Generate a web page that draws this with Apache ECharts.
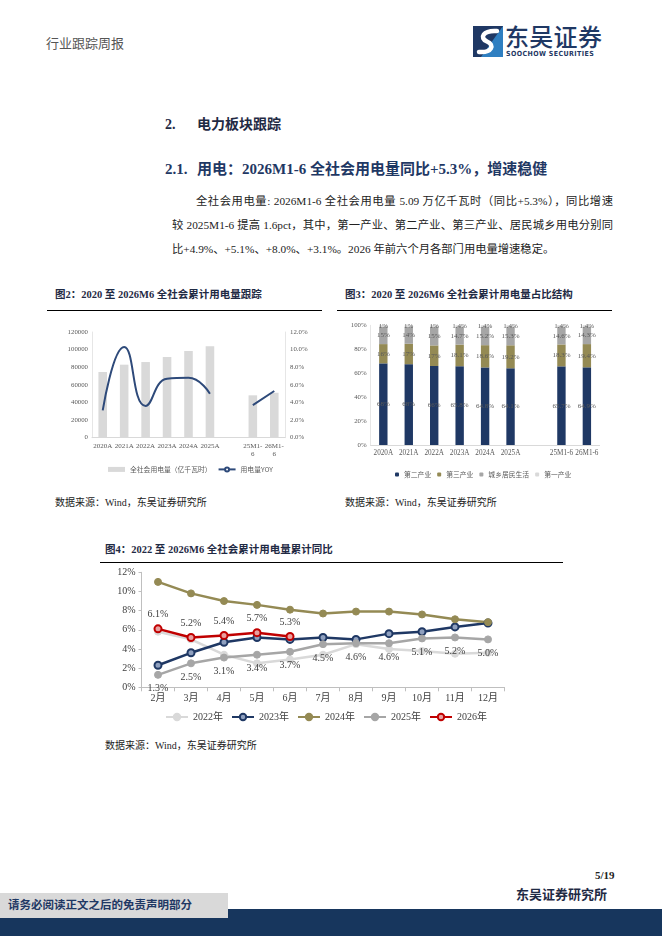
<!DOCTYPE html>
<html><head><meta charset="utf-8">
<script src="https://cdn.jsdelivr.net/npm/echarts@6/dist/echarts.min.js"></script>
<style>
body{margin:0;width:662px;height:936px;position:relative;background:#fff;overflow:hidden;font-family:"Liberation Serif","Noto Sans CJK SC",serif;color:#222;}
.t{position:absolute;white-space:nowrap;line-height:1;}
.ch{position:absolute;}
.jl{position:absolute;white-space:nowrap;text-align:justify;text-align-last:justify;font-size:11.3px;line-height:1;color:#222;}
</style></head><body>

<div class="t" style="left:46px;top:37px;font-size:13px;color:#555;">行业跟踪周报</div>
<svg style="position:absolute;left:473px;top:26px" width="30" height="31" viewBox="0 0 30 31">
  <rect x="0" y="0" width="30" height="31" fill="#1f3864"/>
  <path d="M30,0 L30,31 L8,31 Z" fill="#2f7fc1"/>
  <path d="M24,5 C10,4 6,12 14,15.5 C22,19 19,27 6,26" fill="none" stroke="#fff" stroke-width="4.5" stroke-linecap="round"/>
</svg>
<div class="t" style="left:505px;top:24px;font-size:24px;font-weight:500;color:#1f3864;font-family:'Noto Sans CJK SC';letter-spacing:0.3px;">东吴证券</div>
<div class="t" style="left:506px;top:51px;font-size:7px;font-weight:bold;color:#1f3864;font-family:'DejaVu Sans Condensed','Liberation Sans';letter-spacing:0.4px;">SOOCHOW SECURITIES</div>

<div class="t" style="left:165px;top:118px;font-size:14px;font-weight:bold;color:#1f2a44;">2.</div>
<div class="t" style="left:197px;top:118px;font-size:14px;font-weight:bold;color:#1f2a44;">电力板块跟踪</div>
<div class="t" style="left:165px;top:162px;font-size:15px;font-weight:bold;color:#1f3864;">2.1.</div>
<div class="t" style="left:197px;top:162px;font-size:15px;font-weight:bold;color:#1f3864;">用电：2026M1-6 全社会用电量同比+5.3%，增速稳健</div>

<div class="jl" style="left:196px;top:196px;width:417px;">全社会用电量: 2026M1-6 全社会用电量 5.09 万亿千瓦时（同比+5.3%），同比增速</div>
<div class="jl" style="left:172px;top:220px;width:441px;">较 2025M1-6 提高 1.6pct，其中，第一产业、第二产业、第三产业、居民城乡用电分别同</div>
<div class="t" style="left:172px;top:244px;font-size:11.3px;">比+4.9%、+5.1%、+8.0%、+3.1%。2026 年前六个月各部门用电量增速稳定。</div>

<div class="t" style="left:55px;top:290px;font-size:10.5px;font-weight:bold;color:#1f2a44;">图2：2020 至 2026M6 全社会累计用电量跟踪</div>
<div style="position:absolute;left:47px;top:310px;width:275px;height:1.4px;background:#000;"></div>
<div class="t" style="left:345px;top:290px;font-size:10.5px;font-weight:bold;color:#1f2a44;">图3：2020 至 2026M6 全社会累计用电量占比结构</div>
<div style="position:absolute;left:337px;top:310px;width:275px;height:1.4px;background:#000;"></div>

<div id="c2" class="ch" style="left:47px;top:318px;width:275px;height:162px;"></div>
<div id="c3" class="ch" style="left:335px;top:318px;width:280px;height:162px;"></div>

<div class="t" style="left:55px;top:498px;font-size:10px;">数据来源：Wind，东吴证券研究所</div>
<div class="t" style="left:345px;top:498px;font-size:10px;">数据来源：Wind，东吴证券研究所</div>

<div class="t" style="left:105px;top:545px;font-size:10.5px;font-weight:bold;color:#1f2a44;">图4：2022 至 2026M6 全社会累计用电量累计同比</div>
<div style="position:absolute;left:100px;top:562px;width:463px;height:1.4px;background:#000;"></div>
<div id="c4" class="ch" style="left:100px;top:565px;width:420px;height:170px;"></div>
<div class="t" style="left:105px;top:741px;font-size:10px;">数据来源：Wind，东吴证券研究所</div>

<div class="t" style="left:595px;top:870px;font-size:11px;font-weight:bold;">5/19</div>
<div class="t" style="left:516px;top:888px;font-size:13px;font-weight:bold;color:#1f2a44;">东吴证券研究所</div>
<div style="position:absolute;left:0;top:909px;width:662px;height:27px;background:#17365d;"></div>
<div style="position:absolute;left:0;top:893px;width:228px;height:25px;background:#d9d9d9;"></div>
<div class="t" style="left:8px;top:900px;font-size:11.5px;font-weight:bold;color:#1f3864;">请务必阅读正文之后的免责声明部分</div>

<script>
// ---- Chart 2 data ----
const c2Categories = ['2020A','2021A','2022A','2023A','2024A','2025A','','25M1-\n6','26M1-\n6'];
const c2Power = [74600, 82900, 85900, 91600, 98400, 103700, null, 48100, 51000];
const c2Yoy = [3.1, 10.3, 3.6, 6.7, 6.8, 5.0, null, 3.7, 5.3];

// ---- Chart 3 data ----
const c3Categories = ['2020A','2021A','2022A','2023A','2024A','2025A','','25M1-6','26M1-6'];
const c3Secondary = [68.2, 67.5, 66.0, 65.8, 64.8, 64.1, null, 65.7, 64.9];
const c3Tertiary = [16.1, 17.1, 17.2, 18.1, 18.6, 19.2, null, 18.3, 19.4];
const c3Resident = [14.6, 14.1, 15.4, 14.7, 15.2, 15.3, null, 14.6, 14.3];
const c3Primary = [1.1, 1.3, 1.4, 1.4, 1.4, 1.4, null, 1.4, 1.4];

// ---- Chart 4 data ----
const c4Months = ['2月','3月','4月','5月','6月','7月','8月','9月','10月','11月','12月'];
const y2022 = [5.8, 5.0, 3.4, 2.5, 2.9, 3.4, 4.5, 4.0, 3.8, 3.5, 3.6];
const y2023 = [2.3, 3.6, 4.7, 5.2, 5.0, 5.2, 5.0, 5.6, 5.8, 6.3, 6.7];
const y2024 = [11.0, 9.8, 9.0, 8.6, 8.1, 7.7, 7.9, 7.9, 7.6, 7.1, 6.8];
const y2025 = [1.3, 2.5, 3.1, 3.4, 3.7, 4.5, 4.6, 4.6, 5.1, 5.2, 5.0];
const y2026 = [6.1, 5.2, 5.4, 5.7, 5.3];

const SERIF = '"Liberation Serif","Noto Sans CJK SC",serif';
const CJK = '"Noto Sans CJK SC","Liberation Serif",sans-serif';
const NAVY = '#1f3864', OLIVE = '#948a54', GRAY = '#a6a6a6', LGRAY = '#d9d9d9';

// Chart 2
const ch2 = echarts.init(document.getElementById('c2'), null, {renderer:'canvas'});
ch2.setOption({
  animation:false,
  grid:{left:45, top:14, width:193, height:105.7},
  legend:{left:56, top:143, itemGap:6, itemWidth:17, itemHeight:5,
    textStyle:{fontSize:6.8, color:'#595959', fontFamily:CJK},
    data:[{name:'全社会用电量（亿千瓦时）', icon:'rect'},{name:'用电量YOY'}]},
  xAxis:{type:'category', data:c2Categories,
    axisLine:{lineStyle:{color:'#d9d9d9'}}, axisTick:{show:false},
    axisLabel:{fontSize:7, color:'#595959', fontFamily:SERIF, interval:0, margin:4, lineHeight:8}},
  yAxis:[
    {type:'value', min:0, max:120000, interval:20000,
      axisLine:{show:true, lineStyle:{color:'#e6e6e6'}}, axisTick:{show:false}, splitLine:{show:false},
      axisLabel:{fontSize:6.8, color:'#595959', fontFamily:SERIF, margin:4, formatter:v=>String(v)}},
    {type:'value', min:0, max:12, interval:2,
      axisLine:{show:true, lineStyle:{color:'#e6e6e6'}}, axisTick:{show:false}, splitLine:{show:false},
      axisLabel:{fontSize:6.8, color:'#595959', fontFamily:SERIF, margin:5, formatter:v=>v.toFixed(1)+'%'}}
  ],
  series:[
    {name:'全社会用电量（亿千瓦时）', type:'bar', data:c2Power, barWidth:'40%', itemStyle:{color:LGRAY}},
    {name:'用电量YOY', type:'line', yAxisIndex:1, data:c2Yoy, smooth:0.5, showSymbol:false,
      connectNulls:false, lineStyle:{color:'#2e4a7a', width:2}, itemStyle:{color:'#2e4a7a'}}
  ]
});

// Chart 3
const ch3 = echarts.init(document.getElementById('c3'), null, {renderer:'canvas'});
const fmt3 = p => p.value == null ? '' : (p.dataIndex < 3 ? Math.round(p.value) + '%' : p.value.toFixed(1) + '%');
const lbl3 = {show:true, position:'inside', fontSize:7, color:'#595959', fontFamily:SERIF, formatter:fmt3};
ch3.setOption({
  animation:false,
  grid:{left:35.6, top:7.3, width:229, height:119.7},
  legend:{left:55, top:148, itemGap:6, itemWidth:4, itemHeight:4,
    textStyle:{fontSize:6.8, color:'#595959', fontFamily:CJK},
    data:['第二产业','第三产业','城乡居民生活','第一产业']},
  xAxis:{type:'category', data:c3Categories,
    axisLine:{lineStyle:{color:'#d9d9d9'}}, axisTick:{show:false},
    axisLabel:{fontSize:7.2, color:'#595959', fontFamily:SERIF, interval:0, margin:5}},
  yAxis:{type:'value', min:0, max:100, interval:20,
    axisLine:{show:true, lineStyle:{color:'#e6e6e6'}}, axisTick:{show:false}, splitLine:{show:false},
    axisLabel:{fontSize:6.8, color:'#595959', fontFamily:SERIF, margin:4, formatter:'{value}%'}},
  series:[
    {name:'第二产业', type:'bar', stack:'s', data:c3Secondary, barWidth:'33%', itemStyle:{color:NAVY}, label:lbl3},
    {name:'第三产业', type:'bar', stack:'s', data:c3Tertiary, itemStyle:{color:OLIVE}, label:lbl3},
    {name:'城乡居民生活', type:'bar', stack:'s', data:c3Resident, itemStyle:{color:GRAY}, label:lbl3},
    {name:'第一产业', type:'bar', stack:'s', data:c3Primary, itemStyle:{color:LGRAY}, label:lbl3}
  ]
});

// Chart 4
const ch4 = echarts.init(document.getElementById('c4'), null, {renderer:'canvas'});
const mk = (name, data, color, extra) => Object.assign({
  name, type:'line', data, symbol:'circle', symbolSize:7,
  lineStyle:{color, width:2.5}, itemStyle:{color, borderColor:color, borderWidth:1}
}, extra || {});
const lbl4 = pos => ({show:true, position:pos, fontSize:10, color:'#404040', fontFamily:SERIF, formatter:p=>p.value.toFixed(1)+'%'});
ch4.setOption({
  animation:false,
  grid:{left:41.5, top:7.3, width:363, height:115},
  legend:{left:60, top:142, itemGap:8, itemWidth:22, itemHeight:8,
    textStyle:{fontSize:10, color:'#404040', fontFamily:SERIF},
    data:['2022年','2023年','2024年','2025年','2026年']},
  xAxis:{type:'category', data:c4Months,
    axisLine:{lineStyle:{color:'#bfbfbf'}}, axisTick:{show:true, length:4, lineStyle:{color:'#bfbfbf'}},
    axisLabel:{fontSize:10, color:'#404040', fontFamily:SERIF, interval:0, margin:6}},
  yAxis:{type:'value', min:0, max:12, interval:2,
    axisLine:{show:true, lineStyle:{color:'#bfbfbf'}}, axisTick:{show:true, length:3, lineStyle:{color:'#bfbfbf'}},
    splitLine:{show:false},
    axisLabel:{fontSize:10, color:'#404040', fontFamily:SERIF, margin:6, formatter:'{value}%'}},
  series:[
    mk('2022年', y2022, LGRAY),
    mk('2023年', y2023, NAVY, {itemStyle:{color:'#8fa0bf', borderColor:NAVY, borderWidth:2}}),
    mk('2024年', y2024, OLIVE),
    mk('2025年', y2025, GRAY, {label:lbl4('bottom')}),
    mk('2026年', y2026, '#c00000', {itemStyle:{color:'#e8a0a0', borderColor:'#c00000', borderWidth:2}, label:lbl4('top')})
  ]
});
</script>
</body></html>
